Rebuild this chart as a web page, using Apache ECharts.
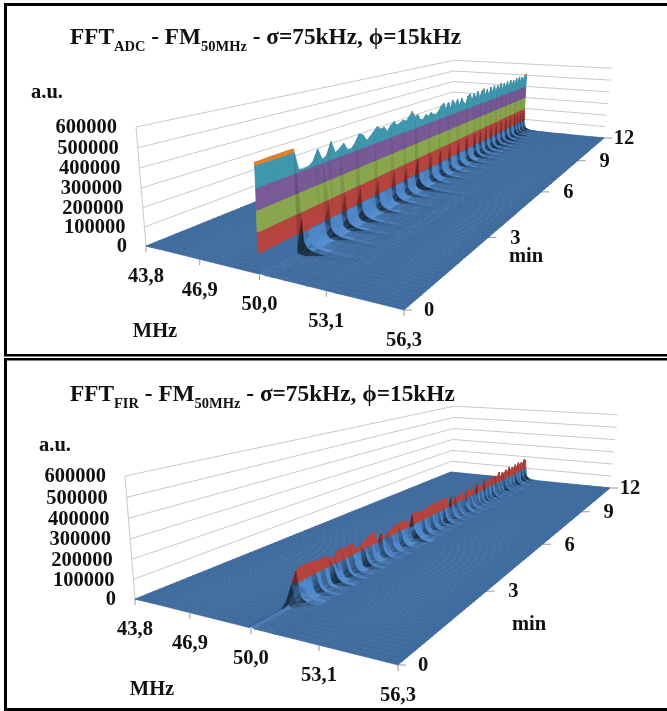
<!DOCTYPE html>
<html><head><meta charset="utf-8">
<style>html,body{margin:0;padding:0;background:#fff}#c{width:667px;height:711px;filter:blur(0.5px)}</style>
<script src="https://cdn.jsdelivr.net/npm/echarts@6/dist/echarts.min.js"></script>
</head><body><div id="c"></div>
<script>
// ---- axes (tick labels) ----
const freqTicks = [43.8, 46.9, 50.0, 53.1, 56.3];
const freqLabels = ['43,8', '46,9', '50,0', '53,1', '56,3'];
const minTicks = [0, 3, 6, 9, 12];
const ampTicks = [0, 100000, 200000, 300000, 400000, 500000, 600000];
// sampling of the time axis: one row each 0.125 min, 0..12 min (97 rows); amplitudes in thousands of a.u.
const timeStep = 0.125;

// ---- FFT ADC surface: one list per frequency column ----
const adcFreqs = [43.8, 49.949, 49.95, 50.05, 50.15, 50.3, 50.6, 51.2, 52.2, 53.5, 56.3];
const adcPeak = [
515,515,516,517,517,518,518,518,410,405,
408,425,478,418,430,492,428,440,462,420,
418,445,482,470,432,448,470,490,468,472,
440,470,485,458,466,475,462,484,512,470,
478,440,435,460,445,462,445,438,455,482,
496,448,492,445,495,452,490,440,488,450,
436,490,500,446,492,450,498,442,488,505,
446,490,438,496,452,500,444,492,452,505,
440,495,450,498,444,503,452,494,442,500,
455,505,448,496,458,506,512];
const adcSkirt1 = [
3,3,3,3,3,3,3,3,165,180,
95,92,90,88,170,100,92,88,175,95,
90,88,175,95,90,88,90,170,92,88,
90,92,175,95,90,88,165,92,88,90,
195,96,88,90,92,170,92,88,90,172,
92,88,90,165,92,88,90,170,92,88,
90,172,92,90,88,175,92,90,170,92,
90,172,92,88,170,92,88,175,90,92,
172,90,88,175,92,90,170,92,88,175,
92,165,90,172,92,175,95];
const adcSkirt2 = [
2,2,2,2,2,2,2,2,55,62,
34,32,30,29,56,33,30,28,57,33,
30,29,60,33,30,28,29,55,31,29,
30,31,58,33,30,28,52,31,28,30,
72,33,29,30,31,55,31,28,30,57,
31,28,30,52,31,28,30,55,31,28,
30,57,31,30,28,58,31,30,55,31,
30,56,31,28,55,31,28,58,30,31,
57,30,28,58,31,30,55,31,28,58,
31,52,30,56,31,58,33];
const adcSkirt3 = [
0,0,0,0,0,0,0,0,26,32,
14,13,12,11,29,14,12,11,29,14,
12,11,32,14,12,11,11,28,12,11,
12,12,30,14,12,11,26,12,11,12,
40,14,11,12,12,28,12,11,12,29,
12,11,12,26,12,11,12,28,12,11,
12,29,12,12,11,30,12,12,28,12,
12,28,12,11,28,12,11,30,12,12,
29,12,11,30,12,12,28,12,11,30,
12,26,12,28,12,30,14];
const adcSkirt4 = [
0,0,0,0,0,0,0,0,10,13,
5,4,4,4,12,5,4,3,12,5,
4,3,13,5,4,3,3,11,4,3,
4,4,12,5,4,3,10,4,3,4,
17,5,3,4,4,11,4,3,4,12,
4,3,4,10,4,3,4,11,4,3,
4,12,4,4,3,12,4,4,11,4,
4,11,4,3,11,4,3,12,4,4,
12,4,3,12,4,4,11,4,3,12,
4,10,4,11,4,12,5];
const adcSkirt5 = [
0,0,0,0,0,0,0,0,3,5,
1,1,1,1,5,1,1,1,5,1,
1,1,5,1,1,1,1,4,1,1,
1,1,5,1,1,1,4,1,1,1,
7,1,1,1,1,4,1,1,1,5,
1,1,1,4,1,1,1,4,1,1,
1,5,1,1,1,5,1,1,4,1,
1,4,1,1,4,1,1,5,1,1,
5,1,1,5,1,1,4,1,1,5,
1,4,1,4,1,5,1];
const adcSkirt6 = [
0,0,0,0,0,0,0,0,1,2,
0,0,0,0,2,0,0,0,2,0,
0,0,2,0,0,0,0,1.5,0,0,
0,0,2,0,0,0,1.5,0,0,0,
3,0,0,0,0,1.5,0,0,0,2,
0,0,0,1,0,0,0,1.5,0,0,
0,1.5,0,0,0,1.5,0,0,1,0,
0,1,0,0,1,0,0,1.5,0,0,
1.5,0,0,1.5,0,0,1,0,0,1.5,
0,1,0,1,0,1.5,0];

// ---- FFT FIR surface ----
const firFreqs = [43.8, 49.899, 49.9, 50.0, 50.06, 50.18, 50.45, 51.0, 56.3];
const firPeak = [
4,4,4,4,4,4,4,30,95,157,
167,167,164,160,150,160,147,127,152,162,
147,160,152,122,120,137,150,162,162,92,
137,95,124,132,140,144,150,140,144,88,
162,167,157,150,157,160,162,164,167,164,
162,167,170,157,92,157,98,147,124,137,
150,100,144,158,124,152,100,164,134,147,
105,167,127,157,136,169,108,154,142,172,
115,162,138,167,130,174,142,162,147,172,
136,177,147,167,152,185,165];
const firSkirt1 = [
6,6,6,6,6,6,6,15,55,85,
85,70,55,84,50,72,45,85,52,48,
80,46,75,50,42,84,48,70,44,48,
78,42,52,75,46,50,80,55,60,75,
88,84,60,50,78,48,55,82,46,50,
76,42,80,48,60,82,46,55,76,44,
60,84,48,52,75,46,62,80,46,70,
50,78,44,72,50,80,48,66,84,50,
72,46,82,52,70,84,50,76,48,86,
54,72,50,88,56,92,70];
const firSkirt2 = [
4,4,4,4,4,4,4,6,28,50,
60,42,30,55,26,40,24,58,28,24,
50,24,42,28,20,52,24,38,22,24,
46,20,28,44,22,26,48,30,34,46,
70,62,32,24,46,22,28,50,22,26,
44,20,48,22,32,52,22,28,44,20,
30,52,22,24,42,22,32,48,20,38,
24,46,20,40,24,48,22,34,52,24,
40,22,50,24,38,52,24,44,22,54,
26,40,24,56,28,62,36];
const firSkirt3 = [
0,0,0,0,0,0,0,1,9,24,
30,18,12,28,10,18,9,30,11,9,
24,9,20,11,8,26,9,17,8,9,
22,8,11,21,8,10,24,12,14,22,
46,34,13,9,22,8,11,25,8,10,
21,7,24,8,13,26,8,11,21,7,
12,26,8,9,20,8,13,24,7,17,
9,22,7,18,9,24,8,14,26,9,
18,8,25,9,16,26,9,21,8,27,
10,18,9,28,11,32,15];
const firSkirt4 = [
0,0,0,0,0,0,0,0,2,7,
9,5,3,8,2,5,2,9,3,2,
7,2,6,3,2,8,2,5,2,2,
6,2,3,6,2,3,7,3,4,6,
16,10,3,2,6,2,3,7,2,3,
6,2,7,2,3,8,2,3,6,2,
3,8,2,2,6,2,3,7,2,5,
2,6,2,5,2,7,2,4,8,2,
5,2,7,2,4,8,2,6,2,8,
3,5,2,8,3,10,4];
const flat = adcPeak.map(() => 0);

const bandColors = ['#3f6b9e', '#b5443f', '#8aa64e', '#775a96', '#3f97ae', '#dd8130'];
const gridColor = '#c9c9c9';
const inkColor = '#111';
const serif = '"Liberation Serif","DejaVu Serif",serif';

// Camera of each panel: floor corners on the page, the vanishing point of the vertical axis and the 600000 mark above the origin.
const panels = [
 { key:'ADC', freqs:adcFreqs,
   cols:[flat,flat,adcPeak,adcSkirt1,adcSkirt2,adcSkirt3,adcSkirt4,adcSkirt5,adcSkirt6,flat,flat],
   floor:[[146,246],[404,310],[604,138],[451,123]], vanish:[335,2497], topY:127,
   au:[47,93], mhz:[155,332], min:[526,257], titleTop:21, sub:'ADC' },
 { key:'FIR', freqs:firFreqs,
   cols:[flat,flat,firPeak,firSkirt1,firSkirt2,firSkirt3,firSkirt4,flat,flat],
   floor:[[135,599],[398,665],[610,488],[451,472]], vanish:[331,3009], topY:476,
   au:[55,446], mhz:[152,690], min:[529,625], titleTop:378, sub:'FIR' }
];

const fMin=freqTicks[0], fMax=freqTicks[4], tMax=minTicks[4], zMax=ampTicks[6]/1000;
panels.forEach(p=>{
  const [[x0,y0],[x1,y1],[x2,y2],[x3,y3]] = p.floor;
  const dx1=x1-x2, dx2=x3-x2, sx=x0-x1+x2-x3, dy1=y1-y2, dy2=y3-y2, sy=y0-y1+y2-y3;
  const den=dx1*dy2-dx2*dy1, g=(sx*dy2-dx2*sy)/den, h=(dx1*sy-sx*dy1)/den;
  const a=x1-x0+g*x1, b=x3-x0+h*x3, d=y1-y0+g*y1, e=y3-y0+h*y3;
  const i=(p.topY-y0)/(p.vanish[1]-p.topY), cx=p.vanish[0]*i, cy=p.vanish[1]*i;
  p.project=(f,t,z)=>{
    const u=(f-fMin)/(fMax-fMin), v=t/tMax, k=z/zMax, w=g*u+h*v+1+i*k;
    return [(a*u+b*v+x0+cx*k)/w,(d*u+e*v+y0+cy*k)/w];
  };
});

function shadeColor(hex,b){
  const c=[1,3,5].map(i=>parseInt(hex.substr(i,2),16));
  const out=c.map(v=> b<=1 ? v*b : v*(1+(b-1)*1.5));
  return 'rgb('+out.map(v=>Math.round(Math.min(255,v))).join(',')+')';
}
function triShade(A,B,C){
  const S=[20,20,0.2];
  const a=[0,1,2].map(i=>(B[i]-A[i])*S[i]), b=[0,1,2].map(i=>(C[i]-A[i])*S[i]);
  let n=[a[1]*b[2]-a[2]*b[1], a[2]*b[0]-a[0]*b[2], a[0]*b[1]-a[1]*b[0]];
  const l=Math.hypot(...n)||1; n=n.map(v=>v/l); if(n[2]<0) n=n.map(v=>-v);
  if(n[0]<-0.3) return 1;
  const dot=n[0]*0.7+n[1]*0.4+n[2]*0.7;
  const s=Math.max(0.42,Math.min(1.2,dot/0.7));
  const low=Math.min(1,Math.max(A[2],B[2],C[2])/10);
  return 1+(s-1)*low;
}
function clipZ(poly,lim,keepAbove){
  const out=[];
  for(let i=0;i<poly.length;i++){
    const P=poly[i],Q=poly[(i+1)%poly.length];
    const pIn=keepAbove?P[2]>=lim:P[2]<=lim, qIn=keepAbove?Q[2]>=lim:Q[2]<=lim;
    if(pIn) out.push(P);
    if(pIn!==qIn){const k=(lim-P[2])/(Q[2]-P[2]); out.push([P[0]+(Q[0]-P[0])*k,P[1]+(Q[1]-P[1])*k,lim]);}
  }
  return out;
}
function triangleShapes(p,api,tri){
  const b=triShade(tri[0],tri[1],tri[2]), res=[];
  bandColors.forEach((col,idx)=>{
    const lo=idx*100, hi=(idx+1)*100;
    const zs=tri.map(v=>v[2]);
    if(Math.max(...zs)<lo||Math.min(...zs)>hi) return;
    if(idx>0&&Math.max(...zs)===lo) return;
    let poly=clipZ(tri,lo,true); if(poly.length<3) return;
    poly=clipZ(poly,hi,false); if(poly.length<3) return;
    const fill=shadeColor(col,idx>0?Math.min(1,b):b);
    res.push({type:'polygon',shape:{points:poly.map(v=>api.coord(p.project(v[0],v[1],v[2])))},
      style:{fill:fill,stroke:fill,lineWidth:0.6},silent:true});
  });
  return res;
}
function surfaceSeries(p){
  const data=[], nF=p.freqs.length, nT=adcPeak.length;
  for(let j=nT-2;j>=0;j--) for(let i=0;i<nF-1;i++) data.push([i,j]);
  return {type:'custom',name:'FFT '+p.key,coordinateSystem:'cartesian2d',clip:false,silent:true,z:3,
    encode:{x:0,y:1},data:data,animation:false,
    renderItem:(params,api)=>{
      const i=api.value(0), j=api.value(1);
      const V=(a,b)=>[p.freqs[a],b*timeStep,p.cols[a][b]];
      const A=V(i,j),B=V(i+1,j),C=V(i+1,j+1),D=V(i,j+1);
      return {type:'group',children:[...triangleShapes(p,api,[A,D,C]),...triangleShapes(p,api,[A,C,B])]};
    }};
}
function gridSeries(p){
  const fL=fMin,fR=fMax;
  return {type:'custom',name:'walls '+p.key,coordinateSystem:'cartesian2d',clip:false,silent:true,z:1,
    encode:{x:0,y:1},animation:false,data:ampTicks.map(v=>[v/1000,0]),
    renderItem:(params,api)=>{
      const z=api.value(0);
      const pts=[p.project(fL,0,z),p.project(fL,tMax,z),p.project(fR,tMax,z)].map(q=>api.coord(q));
      const ch=[{type:'polyline',shape:{points:pts},style:{fill:null,stroke:gridColor,lineWidth:1}}];
      if(params.dataIndex===0) ch.push({type:'line',shape:{x1:api.coord(p.project(fL,0,0))[0],y1:api.coord(p.project(fL,0,0))[1],x2:api.coord(p.project(fL,0,zMax))[0],y2:api.coord(p.project(fL,0,zMax))[1]},style:{stroke:gridColor,lineWidth:1}});
      return {type:'group',children:ch};
    }};
}
function tickSeries(p){
  const items=[...freqTicks.map(f=>[0,f]),...minTicks.map(t=>[1,t])];
  return {type:'custom',name:'ticks '+p.key,coordinateSystem:'cartesian2d',clip:false,silent:true,z:2,
    encode:{x:0,y:1},animation:false,data:items,
    renderItem:(params,api)=>{
      const kind=api.value(0),v=api.value(1);
      const q=kind===0?p.project(v,0,0):p.project(fMax,v,0);
      const a=api.coord(q), b=kind===0?api.coord([q[0],q[1]+6]):api.coord([q[0]+8,q[1]]);
      return {type:'line',shape:{x1:a[0],y1:a[1],x2:b[0],y2:b[1]},style:{stroke:'#999',lineWidth:1}};
    }};
}
function labelSeries(p){
  const items=[];
  ampTicks.forEach((v,i)=>items.push([0,i]));
  freqTicks.forEach((v,i)=>items.push([1,i]));
  minTicks.forEach((v,i)=>items.push([2,i]));
  items.push([3,0],[3,1],[3,2]);
  const txt=(pos,s,align)=>({type:'text',x:pos[0],y:pos[1],
     style:{text:s,fontFamily:serif,fontWeight:'bold',fontSize:20.5,fill:inkColor,align:align||'center',verticalAlign:'middle'}});
  return {type:'custom',name:'labels '+p.key,coordinateSystem:'cartesian2d',clip:false,silent:true,z:5,
    encode:{x:0,y:1},animation:false,data:items,
    renderItem:(params,api)=>{
      const kind=api.value(0),i=api.value(1);
      if(kind===0){const q=p.project(fMin,0,ampTicks[i]/1000);return txt(api.coord([q[0]-19,q[1]+1]),String(ampTicks[i]),'right');}
      if(kind===1){const q=p.project(freqTicks[i],0,0);return txt(api.coord([q[0],q[1]+31]),freqLabels[i]);}
      if(kind===2){const q=p.project(fMax,minTicks[i],0);return txt(api.coord([q[0]+(i===4?20:i===0?25:27),q[1]+1]),String(minTicks[i]));}
      const names=['a.u.','MHz','min'],pos=[p.au,p.mhz,p.min];
      return txt(api.coord(pos[i]),names[i]);
    }};
}

const rich={
  b:{fontFamily:serif,fontWeight:'bold',fontSize:23.3,lineHeight:28,verticalAlign:'bottom',color:inkColor},
  s:{fontFamily:serif,fontWeight:'bold',fontSize:14.5,lineHeight:18,verticalAlign:'bottom',color:inkColor,padding:[0,0,-6,0]}
};
const frame=(shape)=>({type:'rect',shape:shape,style:{fill:'#000'},silent:true,z:10});
const chart=echarts.init(document.getElementById('c'),null,{renderer:'canvas'});
chart.setOption({
  animation:false,
  backgroundColor:'#fff',
  title:panels.map(p=>({left:70,top:p.titleTop,padding:0,
    text:'{b|FFT}{s|'+p.sub+'}{b| - FM}{s|50MHz}{b| - σ=75kHz, ϕ=15kHz}',textStyle:{rich:rich}})),
  grid:{left:0,right:0,top:0,bottom:0},
  xAxis:{type:'value',min:0,max:667,show:false},
  yAxis:{type:'value',min:0,max:711,inverse:true,show:false},
  tooltip:{show:false},
  graphic:[
    frame({x:4,y:3,width:663,height:3}),
    frame({x:4,y:3,width:3,height:353}),
    frame({x:4,y:354,width:663,height:2.5}),
    frame({x:4,y:358,width:663,height:2.5}),
    frame({x:4,y:358,width:3,height:352}),
    frame({x:4,y:708,width:663,height:3})
  ],
  series:panels.flatMap(p=>[gridSeries(p),tickSeries(p),surfaceSeries(p),labelSeries(p)])
});
</script></body></html>
